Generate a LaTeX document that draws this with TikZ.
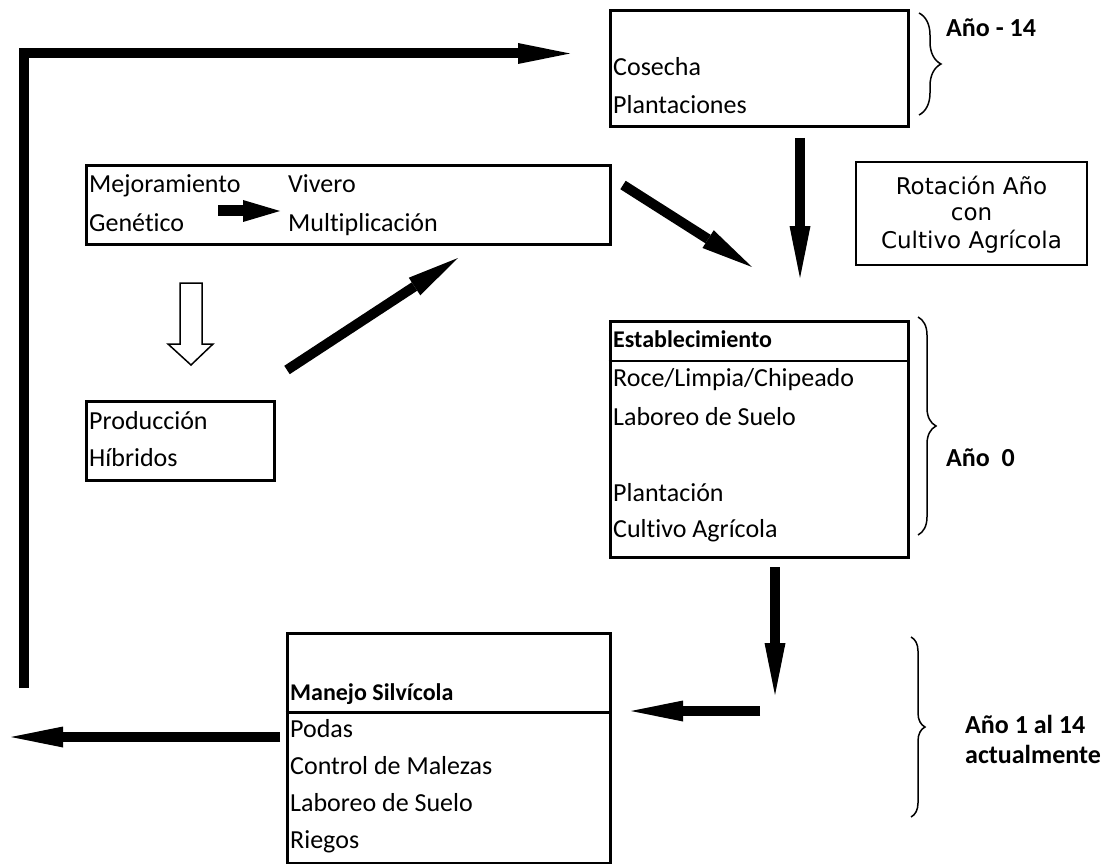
\documentclass[tikz,border=0pt]{standalone}
\usepackage{fontspec}
\setmainfont{Carlito}[Ligatures=NoCommon]
\newfontfamily\rotfont{DejaVu Sans}
\usetikzlibrary{arrows.meta,decorations.pathreplacing}
\begin{document}
\begin{tikzpicture}[x=1pt,y=-1pt,
  box/.style={draw, line width=3pt, inner sep=0pt},
  thinbox/.style={draw, line width=1.6pt, inner sep=0pt},
  txt/.style={anchor=base west, inner sep=0pt, font=\fontsize{26}{31}\selectfont},
  btxt/.style={anchor=base west, inner sep=0pt, font=\fontsize{24}{29}\selectfont\bfseries},
  lbl/.style={anchor=base west, inner sep=0pt, font=\fontsize{26}{31}\selectfont\bfseries},
  rtxt/.style={anchor=base, inner sep=0pt, font=\fontsize{23}{27}\selectfont\rotfont},
  bigarrow/.style={line width=10pt, line join=miter, -{Triangle[length=52pt,width=21pt,line width=0pt]}},
  smallarrow/.style={line width=11pt, -{Triangle[length=37pt,width=22pt,line width=0pt]}},
  brc/.style={decorate, decoration={brace, amplitude=#1}, line width=1.5pt},
  sepline/.style={line width=2.5pt},
]
\useasboundingbox (0,0) rectangle (1112,864);

% boxes
\node[box, minimum width=298pt, minimum height=116pt] (cos) at (759,69) {};
\node[box, minimum width=524pt, minimum height=78pt] (mej) at (348,205) {};
\node[box, minimum width=188pt, minimum height=79pt] (hib) at (180,440.5) {};
\node[thinbox, minimum width=231pt, minimum height=103pt] (rot) at (971.5,213.5) {};
\node[box, minimum width=298pt, minimum height=236pt] (est) at (759,439) {};
\node[box, minimum width=323pt, minimum height=230pt] (man) at (448.5,748) {};

% separators
\coordinate (sepE) at (0,361);
\coordinate (sepM) at (0,712.5);
\draw[sepline] (est.west |- sepE) -- (est.east |- sepE);
\draw[sepline] (man.west |- sepM) -- (man.east |- sepM);

% texts
\node[txt] (t1) at (613,76) {Cosecha};
\node[txt] (t2) at (613,114) {Plantaciones};
\node[txt] (t3) at (89,193) {Mejoramiento};
\node[txt] (t4) at (89,231) {Genético};
\node[txt] (t5) at (288,193) {Vivero};
\node[txt] (t6) at (288,231) {Multiplicación};
\node[txt] (t7) at (89,429) {Producción};
\node[txt] (t8) at (89,466) {Híbridos};
\node[rtxt] (r1) at (971.5,194) {Rotación Año};
\node[rtxt] (r2) at (971.5,221) {con};
\node[rtxt] (r3) at (971.5,248) {Cultivo Agrícola};
\node[btxt] (e0) at (613,347) {Establecimiento};
\node[txt] (e1) at (613,386) {Roce/Limpia/Chipeado};
\node[txt] (e2) at (613,425) {Laboreo de Suelo};
\node[txt] (e3) at (613,501) {Plantación};
\node[txt] (e4) at (613,537) {Cultivo Agrícola};
\node[btxt] (m0) at (290,700) {Manejo Silvícola};
\node[txt] (m1) at (290,737) {Podas};
\node[txt] (m2) at (290,774) {Control de Malezas};
\node[txt] (m3) at (290,811) {Laboreo de Suelo};
\node[txt] (m4) at (290,848) {Riegos};
\node[lbl] (l1) at (946,37) {Año - 14};
\node[lbl] (l2) at (946,466) {Año~~0};
\node[lbl] (l3) at (965,733) {Año 1 al 14};
\node[lbl] (l4) at (965,763) {actualmente};

% braces
\draw[brc=22pt] (919,13) -- (919,115);
\draw[brc=18pt] (918,317) -- (918,535);
\draw[brc=14pt] (911,637) -- (911,817);

% arrow end points
\coordinate (aS) at (24,688);   \coordinate (aE) at (570,53.5);
\coordinate (bS) at (800,138);  \coordinate (bE) at (800,278);
\coordinate (cS) at (623,185);  \coordinate (cE) at (752,267);
\coordinate (dS) at (287,370);  \coordinate (dE) at (458,258);
\coordinate (eS) at (218,211);  \coordinate (eE) at (280,211);
\coordinate (fS) at (775,567);  \coordinate (fE) at (775,695);
\coordinate (gS) at (760,711);  \coordinate (gE) at (631,711);
\coordinate (hS) at (280,737);  \coordinate (hE) at (11,737);

\draw[bigarrow] (aS) |- (aE);
\draw[bigarrow] (bS) -- (bE);
\draw[bigarrow] (cS) -- (cE);
\draw[bigarrow] (dS) -- (dE);
\draw[smallarrow] (eS) -- (eE);
\draw[bigarrow] (fS) -- (fE);
\draw[bigarrow] (gS) -- (gE);
\draw[bigarrow] (hS) -- (hE);

% hollow arrow
\coordinate (hol) at (191,283);
\draw[line width=1.5pt, fill=white] (hol) ++(-11,0) -- ++(22,0) -- ++(0,61) -- ++(11,0) -- (191,365) -- (168,344) -- ++(12,0) -- cycle;
\end{tikzpicture}
\end{document}
